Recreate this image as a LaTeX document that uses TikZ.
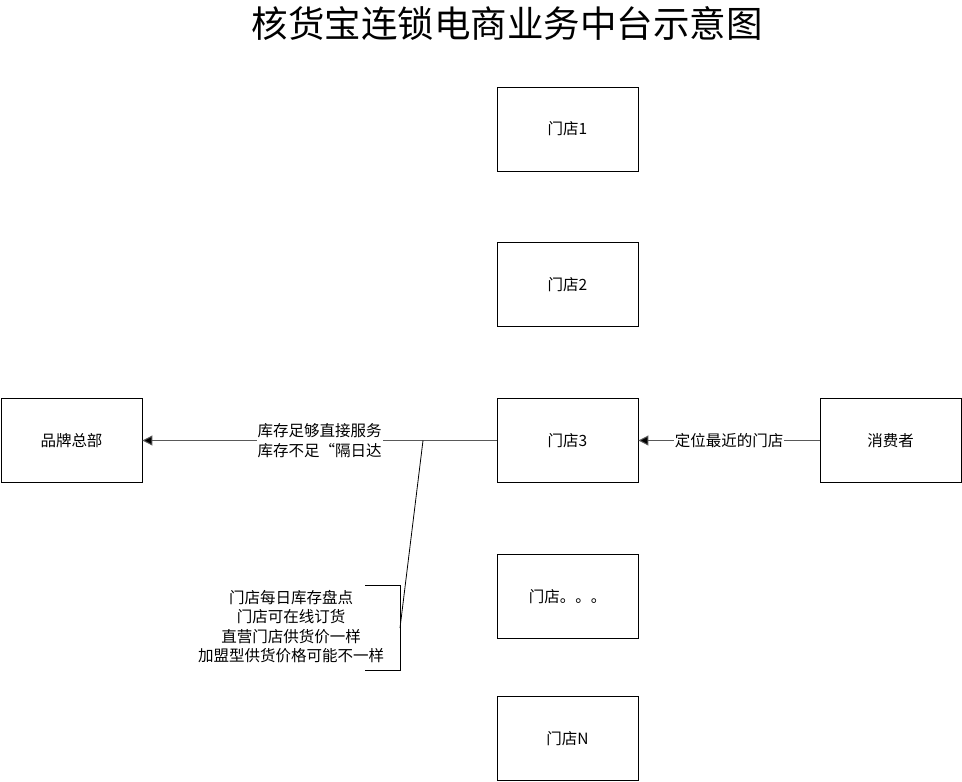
\documentclass[tikz,border=0pt]{standalone}
\usepackage{fontspec}
\setmainfont{Noto Sans CJK SC}
\usetikzlibrary{arrows.meta}
\begin{document}
\begin{tikzpicture}[x=1pt,y=-1pt,
  box/.style={draw=black,line width=0.9pt,minimum width=141pt,minimum height=84pt,inner sep=0pt,font=\fontsize{15.5}{18}\selectfont},
  conn/.style={draw=black!65,line width=1pt},
  tip/.style={-{Triangle[length=10pt,width=10pt,fill=black]}},
  lbl/.style={fill=white,inner sep=1pt,font=\fontsize{15.5}{19.5}\selectfont,align=center},
  ttl/.style={font=\fontsize{36.5}{40}\selectfont}]
\useasboundingbox (0,0) rectangle (962,782);
\node[ttl] (title) at (507,24) {核货宝连锁电商业务中台示意图};
\node[box] (s1) at (567.5,129) {门店1};
\node[box] (s2) at (567.5,284.5) {门店2};
\node[box] (s3) at (567.5,440.5) {门店3};
\node[box] (s4) at (567.5,596.5) {门店。。。};
\node[box] (sn) at (567.5,738.5) {门店N};
\node[box] (hq) at (71.5,440.5) {品牌总部};
\node[box] (cons) at (890.5,440.5) {消费者};
\draw[conn,tip] (s3.west) -- (hq.east) node[lbl,pos=0.5] {库存足够直接服务\\库存不足“隔日达};
\draw[conn,tip] (cons.west) -- (s3.east) node[lbl,pos=0.5] {定位最近的门店};
\coordinate (j) at (423,440.5);
\coordinate (b1) at (365,585);
\coordinate (b2) at (400,585);
\coordinate (bm) at (400,628);
\coordinate (b3) at (400,670);
\coordinate (b4) at (365,670);
\draw[black,line width=0.8pt] (b1) -- (b2) -- (b3) -- (b4);
\draw[black,line width=0.8pt] (j) -- (bm);
\node[lbl,fill=none] (note) at (291,626.5) {门店每日库存盘点\\门店可在线订货\\直营门店供货价一样\\加盟型供货价格可能不一样};
\end{tikzpicture}
\end{document}
